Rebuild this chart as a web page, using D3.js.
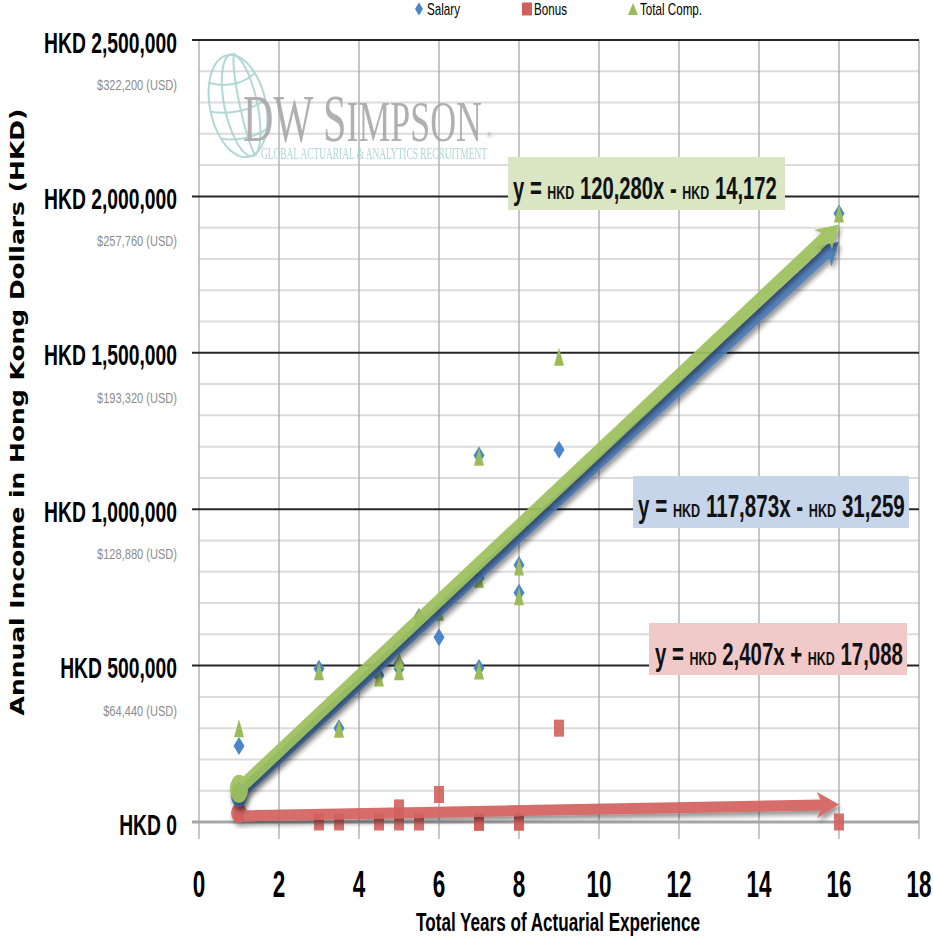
<!DOCTYPE html>
<html><head><meta charset="utf-8">
<script src="https://cdn.jsdelivr.net/npm/d3@7"></script>
<style>body{margin:0;background:#fff}svg{display:block}</style>
</head><body>
<svg id="c" width="933" height="943"></svg>
<script>
// ---------- DATA ----------
const years     = [1, 1, 3, 3.5, 4.5, 5, 5, 5.5, 6, 7, 7, 7, 8, 8, 9, 16];
const salary    = [243000, 80000, 490000, 300000, 468000, 490000, 505000, 655000, 591000, 1172000, 782000, 492000, 822000, 733000, 1190000, 1945000];
const bonus     = [38000, 30000, 0, 0, 0, 0, 45000, 0, 88000, 0, 0, 0, 0, 0, 300000, 0];
const totalComp = [300000, 110000, 482000, 298000, 462000, 482000, 518000, 655000, 672000, 1168000, 778000, 484000, 817000, 722000, 1487000, 1945000];

const seriesNames = ["Salary", "Bonus", "Total Comp."];
const trendSlope     = [117873, 2407, 120280];   // Salary, Bonus, Total Comp.
const trendIntercept = [-31259, 17088, -14172];
const trendFrom = 1, trendTo = 16;
const eqParts = [
  ["y = ", "HKD", " 117,873x - ", "HKD", " 31,259"],
  ["y = ", "HKD", " 2,407x + ", "HKD", " 17,088"],
  ["y = ", "HKD", " 120,280x - ", "HKD", " 14,172"]
];

const yTicks    = [0, 500000, 1000000, 1500000, 2000000, 2500000];
const hkdLabels = ["HKD 0", "HKD 500,000", "HKD 1,000,000", "HKD 1,500,000", "HKD 2,000,000", "HKD 2,500,000"];
const usdLabels = ["", "$64,440 (USD)", "$128,880 (USD)", "$193,320 (USD)", "$257,760 (USD)", "$322,200 (USD)"];
const xTicks    = [0, 2, 4, 6, 8, 10, 12, 14, 16, 18];
const xTitle = "Total Years of Actuarial Experience";
const yTitle = "Annual Income in Hong Kong Dollars (HKD)";

// ---------- SETUP ----------
const NARROW = "'Liberation Sans Narrow','Arial Narrow','Liberation Sans',Arial,sans-serif";
const SERIF = "'Liberation Serif','DejaVu Serif',serif";
const COL = {salary:"#4a86c8", bonus:"#d0605d", total:"#9bbb59"};
const LINECOL = ["#4a78b5", "#d3625f", "#9dc05c"];
const BOXCOL = ["#c6d5ea", "#f1c9c8", "#d9e5c3"];

const svg = d3.select("#c");
const x = d3.scaleLinear().domain([0, 18]).range([199, 919]);
const y = d3.scaleLinear().domain([0, 2500000]).range([822, 40]);

const defs = svg.append("defs");
const f = defs.append("filter").attr("id", "sh").attr("x", "-10%").attr("y", "-10%").attr("width", "130%").attr("height", "130%");
f.append("feDropShadow").attr("dx", 2).attr("dy", 4).attr("stdDeviation", 2.5).attr("flood-color", "#000").attr("flood-opacity", 0.45);

function scaledText(parent, str, x0, y0, sx, anchor, attrs) {
  const gg = parent.append("g").attr("transform", `translate(${x0},${y0}) scale(${sx},1)`);
  const t = gg.append("text").text(str).attr("text-anchor", anchor);
  for (const k in attrs) t.attr(k, attrs[k]);
  return t;
}
function measure(str, attrs) {
  const t = svg.append("text").text(str);
  for (const k in attrs) t.attr(k, attrs[k]);
  const w = t.node().getComputedTextLength();
  t.remove();
  return w;
}

// ---------- GRID ----------
const grid = svg.append("g");
const minor = d3.range(100000, 2500001, 100000).filter(v => v % 500000 !== 0);
grid.selectAll(".mn").data(minor).join("line")
  .attr("x1", x(0)).attr("x2", x(18)).attr("y1", d => y(d)).attr("y2", d => y(d))
  .attr("stroke", "#dcdcdc").attr("stroke-width", 2);
grid.selectAll(".vv").data(xTicks).join("line")
  .attr("x1", d => x(d)).attr("x2", d => x(d)).attr("y1", y(2500000)).attr("y2", y(0) + 17)
  .attr("stroke", "#a8a8a8").attr("stroke-width", 1.3);
grid.selectAll(".mj").data(yTicks.filter(v => v > 0)).join("line")
  .attr("x1", x(0) - 7).attr("x2", x(18)).attr("y1", d => y(d)).attr("y2", d => y(d))
  .attr("stroke", "#262626").attr("stroke-width", 2);
grid.append("line").attr("x1", x(0) - 7).attr("x2", x(18)).attr("y1", y(0)).attr("y2", y(0))
  .attr("stroke", "#a6a6a6").attr("stroke-width", 3);

// ---------- WATERMARK ----------
const wm = svg.append("g").attr("opacity", 0.85);
const globe = wm.append("g").attr("fill", "none").attr("stroke", "#a5d2cf").attr("stroke-width", 2)
  .attr("transform", "rotate(-12,238,106)");
const gcx = 238, gcy = 106, grx = 28, gry = 52;
function ellArc(rx, ry, a0, a1, dx) {
  const p = d3.path(); const n = 48;
  for (let i = 0; i <= n; i++) {
    const a = a0 + (a1 - a0) * i / n;
    const px = gcx + (dx || 0) + rx * Math.cos(a), py = gcy + ry * Math.sin(a);
    i ? p.lineTo(px, py) : p.moveTo(px, py);
  }
  return p.toString();
}
globe.append("path").attr("d", ellArc(grx, gry, 0, 2 * Math.PI));
globe.append("path").attr("d", ellArc(grx * 0.62, gry, Math.PI / 2, 1.5 * Math.PI, 4));
globe.append("path").attr("d", ellArc(grx * 0.22, gry, Math.PI / 2, 1.5 * Math.PI, 8));
globe.append("path").attr("d", ellArc(grx * 0.55, gry, -Math.PI / 2, Math.PI / 2, 4));
// parallels (arcs)
[[-0.55, 0.12], [0, 0.1], [0.55, 0.08]].forEach(([k, bow]) => {
  const yy = gcy + gry * k;
  const half = grx * Math.sqrt(1 - k * k);
  const p = d3.path();
  p.moveTo(gcx - half, yy);
  p.quadraticCurveTo(gcx, yy + gry * bow * 2, gcx + half, yy);
  globe.append("path").attr("d", p.toString());
});
const wmT = wm.append("g");
const wmText = wmT.append("text").attr("font-family", SERIF).attr("fill", "#a3a3a3");
wmText.append("tspan").attr("font-size", 67).text("DW S");
wmText.append("tspan").attr("font-size", 57).text("IMPSON");
const wmW = wmText.node().getComputedTextLength();
wmT.attr("transform", `translate(243,141) scale(${239 / wmW},1)`);
wm.append("text").attr("x", 486).attr("y", 138).attr("font-size", 9).attr("font-family", SERIF).attr("fill", "#a3a3a3").text("®");
const subStr = "GLOBAL ACTUARIAL & ANALYTICS RECRUITMENT";
const subA = {"font-family": SERIF, "font-size": 16, fill: "#9fd0cc"};
scaledText(wm, subStr, 261, 159, 226 / measure(subStr, subA), "start", subA);

// ---------- MARKERS ----------
function diamond(w, h) { return `M0,${-h/2}L${w/2},0L0,${h/2}L${-w/2},0Z`; }
function square(w, h) { return `M${-w/2},${-h/2}h${w}v${h}h${-w}Z`; }
function tri(w, h) { return `M0,${-h/2}L${w/2},${h/2}L${-w/2},${h/2}Z`; }
const pts = svg.append("g");
pts.selectAll(".s").data(years).join("path")
  .attr("d", diamond(11, 18)).attr("fill", COL.salary)
  .attr("transform", (d, i) => `translate(${x(d)},${y(salary[i])})`);
pts.selectAll(".b").data(years).join("path")
  .attr("d", square(10, 17)).attr("fill", COL.bonus).attr("opacity", 0.9)
  .attr("transform", (d, i) => `translate(${x(d)},${y(bonus[i])})`);
pts.selectAll(".t").data(years).join("path")
  .attr("d", tri(10, 18)).attr("fill", COL.total)
  .attr("transform", (d, i) => `translate(${x(d)},${y(totalComp[i])})`);

// ---------- TREND ARROWS ----------
const arrows = svg.append("g");
const order = [1, 0, 2];
const lineW = [11, 11, 12];
const startR = [[8, 12], [8, 9.5], [9, 14]];
order.forEach(i => {
  const x0 = x(trendFrom), y0 = y(trendSlope[i] * trendFrom + trendIntercept[i]);
  const x1 = x(trendTo), y1 = y(trendSlope[i] * trendTo + trendIntercept[i]);
  const dx = x1 - x0, dy = y1 - y0, L = Math.hypot(dx, dy);
  const ux = dx / L, uy = dy / L, nx = -uy, ny = ux;
  const hl = 22, hw = 13, notch = 6;
  const bx = x1 - ux * hl, by = y1 - uy * hl;
  const a = arrows.append("g").attr("filter", "url(#sh)").attr("opacity", 0.93);
  a.append("line").attr("x1", x0).attr("y1", y0).attr("x2", bx + ux * notch).attr("y2", by + uy * notch)
    .attr("stroke", LINECOL[i]).attr("stroke-width", lineW[i]).attr("stroke-linecap", "butt");
  a.append("path").attr("fill", LINECOL[i])
    .attr("d", `M${x1},${y1}L${bx + nx * hw},${by + ny * hw}L${bx + ux * notch},${by + uy * notch}L${bx - nx * hw},${by - ny * hw}Z`);
  a.append("ellipse").attr("cx", x0).attr("cy", y0 - (i === 1 ? 3 : 0)).attr("rx", startR[i][0]).attr("ry", startR[i][1]).attr("fill", LINECOL[i]);
});

// ---------- EQUATION BOXES ----------
const boxes = [
  {i: 2, x0: 508, x1: 785, y0: 157, y1: 210, tx0: 513, tx1: 777, base: 199},
  {i: 0, x0: 633, x1: 909, y0: 476, y1: 528, tx0: 638, tx1: 905, base: 517},
  {i: 1, x0: 649, x1: 907, y0: 623, y1: 675, tx0: 655, tx1: 903, base: 665}
];
boxes.forEach(b => {
  svg.append("rect").attr("x", b.x0).attr("y", b.y0).attr("width", b.x1 - b.x0).attr("height", b.y1 - b.y0).attr("fill", BOXCOL[b.i]);
  const gg = svg.append("g");
  const t = gg.append("text").attr("font-family", NARROW).attr("font-weight", "bold").attr("fill", "#111");
  eqParts[b.i].forEach(p => t.append("tspan").attr("font-size", p === "HKD" ? 19 : 31).text(p));
  const w = t.node().getComputedTextLength();
  gg.attr("transform", `translate(${b.tx0},${b.base}) scale(${(b.tx1 - b.tx0) / w},1)`);
});

// ---------- AXES TEXT ----------
const hA = {"font-family": NARROW, "font-weight": "bold", "font-size": 29, fill: "#000"};
const hS = 133 / measure("HKD 2,500,000", hA);
yTicks.forEach((v, i) => scaledText(svg, hkdLabels[i], 177, y(v) + 12.5, hS, "end", hA));
const uA = {"font-family": NARROW, "font-size": 15, fill: "#8c8c8c"};
const uS = 80 / measure("$322,200 (USD)", uA);
yTicks.forEach((v, i) => { if (usdLabels[i]) scaledText(svg, usdLabels[i], 177, y(v) + 50, uS, "end", uA); });

const xA = {"font-family": NARROW, "font-weight": "bold", "font-size": 37, fill: "#000"};
const xS = 25 / measure("10", xA);
xTicks.forEach(v => scaledText(svg, String(v), x(v), 897, xS, "middle", xA));

const tA = {"font-family": NARROW, "font-weight": "bold", "font-size": 25, fill: "#000"};
scaledText(svg, xTitle, 558, 931, 284 / measure(xTitle, tA), "middle", tA);

const yA = {"font-family": "'DejaVu Sans',Verdana,sans-serif", "font-weight": "bold", "font-size": 19, fill: "#000"};
const yS = 607 / measure(yTitle, yA);
svg.append("g").attr("transform", `translate(24,412) rotate(-90) scale(${yS},1)`)
  .append("text").text(yTitle).attr("text-anchor", "middle")
  .attr("font-family", yA["font-family"]).attr("font-weight", "bold").attr("font-size", 19);

// ---------- LEGEND ----------
const lg = svg.append("g");
const lgA = {"font-family": NARROW, "font-size": 16, fill: "#000"};
const lgS = 33 / measure("Salary", lgA);
const legendX = [419, 527, 633];
const legendTextX = [427, 534, 640];
const legendShapes = [diamond(8, 13), square(10, 13), tri(10, 12)];
const legendCols = [COL.salary, COL.bonus, COL.total];
seriesNames.forEach((n, i) => {
  lg.append("path").attr("d", legendShapes[i]).attr("fill", legendCols[i]).attr("transform", `translate(${legendX[i]},9)`);
  scaledText(lg, n, legendTextX[i], 15, lgS, "start", lgA);
});
</script>
</body></html>
